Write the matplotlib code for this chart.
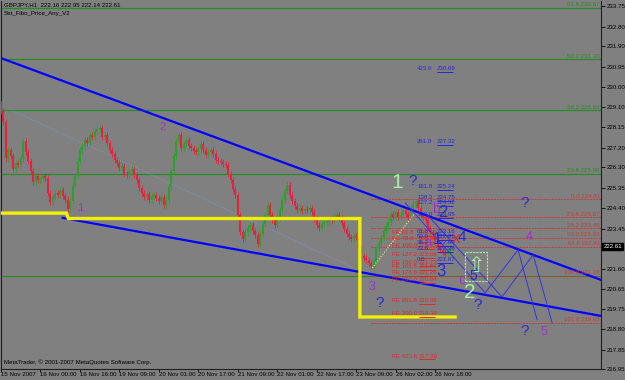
"""GBPJPY H1 MetaTrader screenshot redraw: candles, fibo levels, channel lines and wave labels."""

import matplotlib
matplotlib.use("Agg")
import matplotlib.pyplot as plt
import matplotlib.transforms as mtransforms
import numpy as np

plt.rcParams["font.family"] = ["Liberation Sans", "DejaVu Sans"]

BG = "#808080"
UP = "#2f9e2f"
DOWN = "#e8203c"
BLUE = "#0000ff"
TXT_BLUE = "#2828d8"
PURPLE = "#a030c8"
PALE_GREEN = "#a8f0a8"
FIB_GREEN = "#2a8a2a"
FIB_RED = "#c83c3c"
SMALL = 4.4

# hourly closes, 15 Nov 2007 08:00 -> 26 Nov 2007
first_open = 229.20
closes = [
    228.90, 228.40, 226.70, 227.10, 226.80, 226.20, 226.50, 226.40, 226.70, 227.50,
    227.00, 226.60, 226.10, 225.60, 225.90, 225.70, 225.75, 225.90, 225.80, 225.10,
    224.70, 224.90, 225.10, 225.00, 225.25, 224.95, 224.80, 224.35, 224.75, 225.45,
    225.90, 226.60, 227.10, 227.30, 227.55, 227.40, 227.80, 227.70, 227.95, 228.05,
    228.10, 227.70, 227.80, 227.40, 227.10, 226.90, 226.65, 226.50, 226.25, 226.35,
    226.00, 225.95, 226.10, 226.20, 225.95, 225.70, 225.35, 225.10, 224.90, 225.05,
    224.80, 224.95, 225.00, 224.85, 224.75, 224.90, 224.55, 224.80, 225.40, 226.10,
    226.80, 227.50, 227.80, 227.20, 227.35, 227.55, 227.30, 227.20, 227.05, 227.00,
    227.15, 227.35, 227.10, 226.85, 227.00, 227.10, 226.90, 226.65, 226.60, 226.55,
    226.45, 226.40, 226.00, 225.70, 225.30, 225.00, 224.10, 223.30, 222.95, 223.30,
    223.50, 223.60, 223.35, 223.15, 222.75, 223.20, 223.65, 224.10, 224.55, 224.10,
    223.85, 223.60, 223.95, 224.30, 224.80, 225.20, 225.45, 225.00, 224.75, 224.50,
    224.30, 224.40, 224.25, 224.35, 224.30, 224.40, 224.20, 223.90, 223.60, 223.50,
    223.65, 223.70, 223.75, 223.90, 223.85, 224.00, 224.10, 223.95, 223.70, 223.45,
    223.20, 223.05, 222.95, 223.10, 223.05, 222.50, 222.20, 222.10, 222.00, 221.85,
    221.70, 221.95, 222.55, 222.80, 223.05, 223.35, 223.55, 223.75, 224.15, 224.00,
    224.20, 224.00, 224.10, 224.30, 224.15, 224.00, 224.40, 224.60, 224.70, 224.40,
    224.10, 224.00, 223.85, 223.50, 223.30, 223.15, 222.90, 222.60, 222.45, 222.35,
    222.25, 222.40, 222.55, 222.61,
]
last_price = 222.61

time_ticks = [0, 16, 32, 48, 64, 80, 96, 112, 128, 144, 160, 176]
time_labels = ["15 Nov 2007", "16 Nov 00:00", "16 Nov 16:00", "19 Nov 09:00",
               "20 Nov 01:00", "20 Nov 17:00", "21 Nov 09:00", "22 Nov 01:00",
               "22 Nov 17:00", "23 Nov 09:00", "26 Nov 02:00", "26 Nov 18:00"]
price_ticks = [233.75, 232.80, 231.90, 230.95, 230.00, 229.10, 228.15, 227.20,
               226.30, 225.35, 224.40, 223.45, 221.60, 220.65, 219.75, 218.80,
               217.85, 216.95]

# fibo retracement (green, whole width) and the small red one on the right
green_levels = [0.0, 23.6, 38.2, 50.0, 61.8]
green_prices = [221.25, 225.99, 228.93, 231.30, 233.67]
red_levels = [0.0, 23.6, 38.2, 50.0, 61.8, 100.0, 161.8]
red_prices = [224.81, 223.97, 223.46, 223.03, 222.61, 221.28, 219.08]
red_start = 150

# fibo expansions
fe_levels = [61.8, 78.6, 100.0, 127.2, 150.0, 161.8, 178.6, 200.0, 261.8, 300.0, 423.6]
fe_prices = [223.12, 222.85, 222.51, 222.08, 221.73, 221.54, 221.28, 220.94, 219.96, 219.36, 217.39]
blue_levels = [0.0, 23.6, 38.2, 50.0, 61.8, 100.0, 127.2, 138.2, 161.8, 261.8, 423.6]
blue_prices = [221.87, 222.36, 222.66, 222.91, 223.16, 223.95, 224.52, 224.75, 225.24, 227.32, 230.69]

# drawn objects, (bar, price)
upper_bars, upper_prices = [0, 243], [231.35, 221.08]
lower_bars, lower_prices = [25, 243], [223.95, 219.41]
guide_bars, guide_prices = [4, 143], [228.95, 221.63]
yellow_bars = [0, 26.5, 27.3, 145.4, 145.4, 184]
yellow_prices = [224.17, 224.17, 223.92, 223.92, 219.36, 219.36]
ydot_bars, ydot_prices = [150.4, 167.8], [221.63, 224.18]
proj_a_bars, proj_a_prices = [163.8, 196.2, 209.5, 217.2], [224.64, 220.48, 222.47, 219.23]
proj_b_bars, proj_b_prices = [172.7, 203.0, 215.6, 223.3], [224.09, 220.29, 222.24, 219.09]
box_bars, box_prices = [188, 197], [221.03, 222.37]

# wave labels: bar, price, text, colour, size
labels = [
    (32.2, 224.41, "1", PURPLE, 8), (65.4, 228.16, "2", PURPLE, 8),
    (150.4, 220.75, "3", PURPLE, 9), (214.0, 223.07, "4", PURPLE, 9),
    (220.0, 218.67, "5", PURPLE, 9),
    (160.5, 225.57, "1", PALE_GREEN, 15), (190.0, 220.48, "2", PALE_GREEN, 15),
    (166.6, 225.66, "?", TXT_BLUE, 11), (153.6, 220.00, "?", TXT_BLUE, 11),
    (193.3, 219.92, "?", TXT_BLUE, 11), (212.3, 224.64, "?", TXT_BLUE, 11),
    (212.3, 218.72, "?", TXT_BLUE, 11),
    (176.7, 222.93, "1", TXT_BLUE, 12), (179.2, 224.18, "2", TXT_BLUE, 12),
    (178.3, 221.45, "3", TXT_BLUE, 12), (186.8, 223.07, "4", TXT_BLUE, 11),
    (191.3, 221.26, "5", TXT_BLUE, 10),
    (176.3, 224.36, "b", PURPLE, 10), (173.0, 222.79, "a", PURPLE, 9),
    (186.8, 221.08, "c", PURPLE, 10), (184.4, 222.93, "X", "#e02020", 9),
]


def main() -> None:
    fig = plt.figure(figsize=(6.25, 3.8), dpi=100, facecolor=BG)
    ax = fig.add_axes([1 / 625, 11 / 380, 600 / 625, 368 / 380])
    ax.set_facecolor(BG)
    ax.set_xlim(0.2, 243.1)
    ax.set_ylim(216.957, 233.994)
    right = 242.6

    # fibo lines (green 0.0 label hidden under the red 100.0 one)
    for lev, p in zip(green_levels, green_prices):
        ax.axhline(p, color=FIB_GREEN, lw=0.9, zorder=1)
        if lev > 0:
            ax.text(right, p + 0.03, f"{lev:.1f} {p:.2f}", color=FIB_GREEN, fontsize=SMALL,
                    ha="right", va="bottom", zorder=6)
    for lev, p in zip(red_levels, red_prices):
        ax.hlines(p, red_start, 243.1, color=FIB_RED, lw=0.7, ls=(0, (2, 1)), zorder=1)
        ax.text(right, p + 0.03, f"{lev:.1f} {p:.2f}", color=FIB_RED, fontsize=SMALL,
                ha="right", va="bottom", zorder=6)

    ax.plot(guide_bars, guide_prices, color="#7aa0d8", lw=0.6, ls=(0, (1, 2)), zorder=1)

    # candles
    c = np.array(closes)
    o = np.r_[first_open, c[:-1]]
    x = np.arange(len(c))
    wick = 0.14
    up = c >= o
    for mask, col in ((up, UP), (~up, DOWN)):
        ax.vlines(x[mask], np.minimum(o, c)[mask] - wick, np.maximum(o, c)[mask] + wick,
                  color=col, lw=0.6, zorder=3)
        ax.vlines(x[mask], np.minimum(o, c)[mask], np.maximum(o, c)[mask],
                  color=col, lw=1.5, zorder=3)

    # channel, yellow marker lines, projections
    ax.plot(upper_bars, upper_prices, color=BLUE, lw=1.6, zorder=4)
    ax.plot(lower_bars, lower_prices, color=BLUE, lw=1.6, zorder=4)
    ax.plot(yellow_bars, yellow_prices, color="#f0f000", lw=2.4, zorder=4,
            solid_joinstyle="miter")
    ax.plot(ydot_bars, ydot_prices, color="#f0f080", lw=0.8, ls=(0, (1, 1.5)), zorder=4)
    for bx, py in ((proj_a_bars, proj_a_prices), (proj_b_bars, proj_b_prices)):
        ax.plot(bx, py, color="#3434e0", lw=0.7, zorder=4)
    ax.add_patch(plt.Rectangle((box_bars[0], box_prices[0]), box_bars[1] - box_bars[0],
                               box_prices[1] - box_prices[0], fill=False,
                               ec=PALE_GREEN, lw=0.8, ls=(0, (2, 1)), zorder=5))
    ax.text(np.mean(box_bars), np.mean(box_prices), "\u21e7", color=PALE_GREEN,
            fontsize=15, ha="center", va="center", family="DejaVu Sans", zorder=5)

    # expansion labels with short underline under the price
    for lev, p in zip(fe_levels, fe_prices):
        ax.text(158.5, p + 0.04, f"FE {lev:.1f}", color="#e02828", fontsize=SMALL,
                va="bottom", zorder=6)
        ax.text(169.4, p + 0.04, f"{p:.2f}", color="#e02828", fontsize=SMALL,
                va="bottom", zorder=6)
        ax.hlines(p, 169.4, 175.8, color="#e02828", lw=0.7, zorder=6)
    for lev, p in zip(blue_levels, blue_prices):
        ax.text(168.6, p + 0.04, f"{lev:.1f}", color=TXT_BLUE, fontsize=SMALL,
                va="bottom", zorder=6)
        ax.text(176.7, p + 0.04, f"{p:.2f}", color=TXT_BLUE, fontsize=SMALL,
                va="bottom", zorder=6)
        ax.hlines(p, 176.7, 183.2, color=TXT_BLUE, lw=0.7, zorder=6)

    for bx, p, s, col, size in labels:
        ax.text(bx, p, s, color=col, fontsize=size, ha="center", va="center", zorder=7)

    # header / footer text
    ax.text(0.005, 0.997, "GBPJPY,H1  222.16 222.95 222.14 222.61", transform=ax.transAxes,
            fontsize=SMALL, va="top", color="black")
    ax.text(0.005, 0.972, "Set_Fibo_Price_Any_V2", transform=ax.transAxes,
            fontsize=SMALL, va="top", color="black")
    ax.text(0.005, 0.012, "MetaTrader, \u00a9 2001-2007 MetaQuotes Software Corp.",
            transform=ax.transAxes, fontsize=SMALL, va="bottom", color="black")

    # axes
    ax.spines["top"].set_visible(False)
    for side in ("left", "right", "bottom"):
        ax.spines[side].set_color("#202020")
        ax.spines[side].set_linewidth(0.8)
    ax.yaxis.tick_right()
    ax.set_yticks(price_ticks)
    ax.set_yticklabels([f"{v:.2f}" for v in price_ticks])
    ax.set_xticks(time_ticks)
    ax.set_xticklabels(time_labels)
    for lab in ax.get_xticklabels():
        lab.set_horizontalalignment("left")
    ax.tick_params(axis="y", labelsize=SMALL, length=3, width=0.6, colors="black", pad=1)
    ax.tick_params(axis="x", labelsize=SMALL, length=2, width=0.6, colors="black", pad=0.5)

    trans = mtransforms.blended_transform_factory(ax.transAxes, ax.transData)
    ax.text(1.004, last_price, f"{last_price:.2f}", transform=trans, fontsize=SMALL,
            color="white", va="center", ha="left",
            bbox=dict(boxstyle="square,pad=0.15", fc="black", ec="black"), zorder=8,
            clip_on=False)

    fig.savefig("out.png", dpi=100, facecolor=BG)


if __name__ == "__main__":
    main()
